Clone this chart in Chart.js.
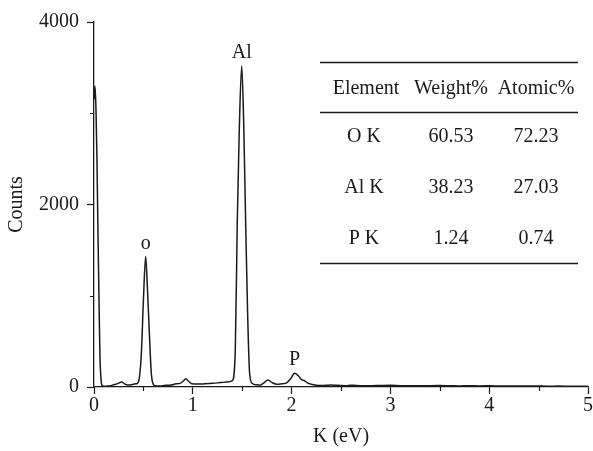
<!DOCTYPE html>
<html>
<head>
<meta charset="utf-8">
<script src="https://cdn.jsdelivr.net/npm/chart.js@4"></script>
<style>
  html, body { margin: 0; padding: 0; background: #fff; }
  #wrap { width: 593px; height: 451px; position: relative; }
</style>
</head>
<body>
<div id="wrap"><canvas id="c" width="593" height="451"></canvas></div>
<script>
// ---- data ----
const energy = [0,0.01,0.02,0.03,0.04,0.05,0.06,0.07,0.08,0.1,
  0.14,0.18,0.22,0.25,0.28,0.31,0.34,0.38,0.42,0.44,
  0.46,0.48,0.5,0.523,0.54,0.56,0.58,0.6,0.63,0.68,
  0.73,0.78,0.83,0.87,0.9,0.93,0.96,0.99,1.05,1.12,
  1.2,1.28,1.35,1.4,1.43,1.45,1.47,1.495,1.515,1.535,
  1.555,1.575,1.6,1.64,1.68,1.72,1.76,1.8,1.85,1.9,
  1.95,1.99,2.03,2.07,2.1,2.13,2.16,2.2,2.25,2.3,
  2.35,2.4,2.45,2.5,2.55,2.6,2.65,2.7,2.8,2.9,
  3.0,3.1,3.2,3.3,3.4,3.5,3.6,3.7,3.8,3.9,4.0,4.1,4.2,4.3,4.4,4.5,4.6,4.7,4.8,4.9,5.0];
const counts = [3150,3300,3050,2500,1700,1000,350,100,20,8,
  10,18,30,42,55,35,22,25,35,40,
  110,380,950,1430,1100,600,150,30,12,12,
  18,22,35,40,60,90,60,35,32,35,
  40,48,55,70,400,1800,2800,3520,2900,1800,
  800,150,40,25,20,45,78,50,30,35,
  45,90,150,120,80,70,45,30,20,16,
  18,22,18,16,15,20,17,15,14,16,
  18,15,14,13,15,16,14,12,13,12,13,11,10,12,11,10,9,10,9,8,8];

const peakLabels = ['o', 'Al', 'P'];
const peakEnergy = [0.523, 1.495, 2.03];
const peakCounts = [1430, 3520, 150];

const tableHeader = ['Element', 'Weight%', 'Atomic%'];
const tableElements = ['O K', 'Al K', 'P K'];
const tableWeight = ['60.53', '38.23', '1.24'];
const tableAtomic = ['72.23', '27.03', '0.74'];

const xMinorTicks = [0.5, 1.5, 2.5, 3.5, 4.5];
const yMinorTicks = [1000, 3000];

const FONT = '"Liberation Serif", "Times New Roman", serif';
const INK = '#1a1a1a';

const overlay = {
  id: 'overlay',
  afterDraw(chart) {
    const ctx = chart.ctx;
    const xs = chart.scales.x, ys = chart.scales.y;
    const area = chart.chartArea;
    ctx.save();
    // minor ticks
    ctx.strokeStyle = INK;
    ctx.lineWidth = 1.2;
    ctx.beginPath();
    xMinorTicks.forEach(v => {
      const px = Math.round(xs.getPixelForValue(v)) + 0.5;
      ctx.moveTo(px, area.bottom);
      ctx.lineTo(px, area.bottom + 4);
    });
    yMinorTicks.forEach(v => {
      const py = Math.round(ys.getPixelForValue(v)) + 0.5;
      ctx.moveTo(area.left, py);
      ctx.lineTo(area.left - 4, py);
    });
    ctx.stroke();

    // peak labels
    ctx.fillStyle = INK;
    ctx.font = '20px ' + FONT;
    ctx.textAlign = 'center';
    ctx.textBaseline = 'alphabetic';
    peakLabels.forEach((t, i) => {
      const px = xs.getPixelForValue(peakEnergy[i]);
      const py = ys.getPixelForValue(peakCounts[i]);
      ctx.fillText(t, px, py - 8);
    });

    // table
    const x0 = 320, x1 = 578;
    const lines = [62, 112, 263];
    ctx.lineWidth = 1.3;
    ctx.beginPath();
    lines.forEach(y => { ctx.moveTo(x0, y + 0.5); ctx.lineTo(x1, y + 0.5); });
    ctx.stroke();
    const cols = [366, 451, 536];
    ctx.textBaseline = 'middle';
    ctx.font = '20px ' + FONT;
    tableHeader.forEach((t, i) => ctx.fillText(t, cols[i], 89));
    const rowY = [137, 188, 239];
    tableElements.forEach((t, r) => {
      ctx.fillText(t, 364, rowY[r]);
      ctx.fillText(tableWeight[r], cols[1], rowY[r]);
      ctx.fillText(tableAtomic[r], cols[2], rowY[r]);
    });
    ctx.restore();
  }
};

new Chart(document.getElementById('c'), {
  type: 'line',
  data: {
    datasets: [{
      data: energy.map((e, i) => ({ x: e, y: counts[i] })),
      borderColor: INK,
      borderWidth: 1.5,
      pointRadius: 0,
      cubicInterpolationMode: 'monotone',
      fill: false
    }]
  },
  options: {
    responsive: false,
    animation: false,
    devicePixelRatio: 1,
    layout: { padding: { top: 22, right: 5, left: 0, bottom: 0 } },
    plugins: { legend: { display: false }, tooltip: { enabled: false } },
    scales: {
      x: {
        type: 'linear',
        min: 0, max: 5,
        ticks: { stepSize: 1, color: INK, font: { family: FONT, size: 20 }, padding: 0, maxRotation: 0 },
        grid: { drawOnChartArea: false, drawTicks: true, tickLength: 7, tickColor: INK, tickWidth: 1.2 },
        border: { display: true, color: INK, width: 1.3 },
        title: { display: true, text: 'K (eV)', color: INK, font: { family: FONT, size: 20 }, padding: { top: 0, bottom: 2 } },
        afterFit(s) { s.height = 64; }
      },
      y: {
        min: 0, max: 4000,
        ticks: { stepSize: 2000, color: INK, font: { family: FONT, size: 20 }, padding: 8,
                 callback: v => String(v) },
        grid: { drawOnChartArea: false, drawTicks: true, tickLength: 7, tickColor: INK, tickWidth: 1.2 },
        border: { display: true, color: INK, width: 1.3 },
        title: { display: true, text: 'Counts', color: INK, font: { family: FONT, size: 20 }, padding: { top: 5, bottom: 0 } },
        afterFit(s) { s.width = 94; }
      }
    }
  },
  plugins: [overlay]
});
</script>
</body>
</html>
